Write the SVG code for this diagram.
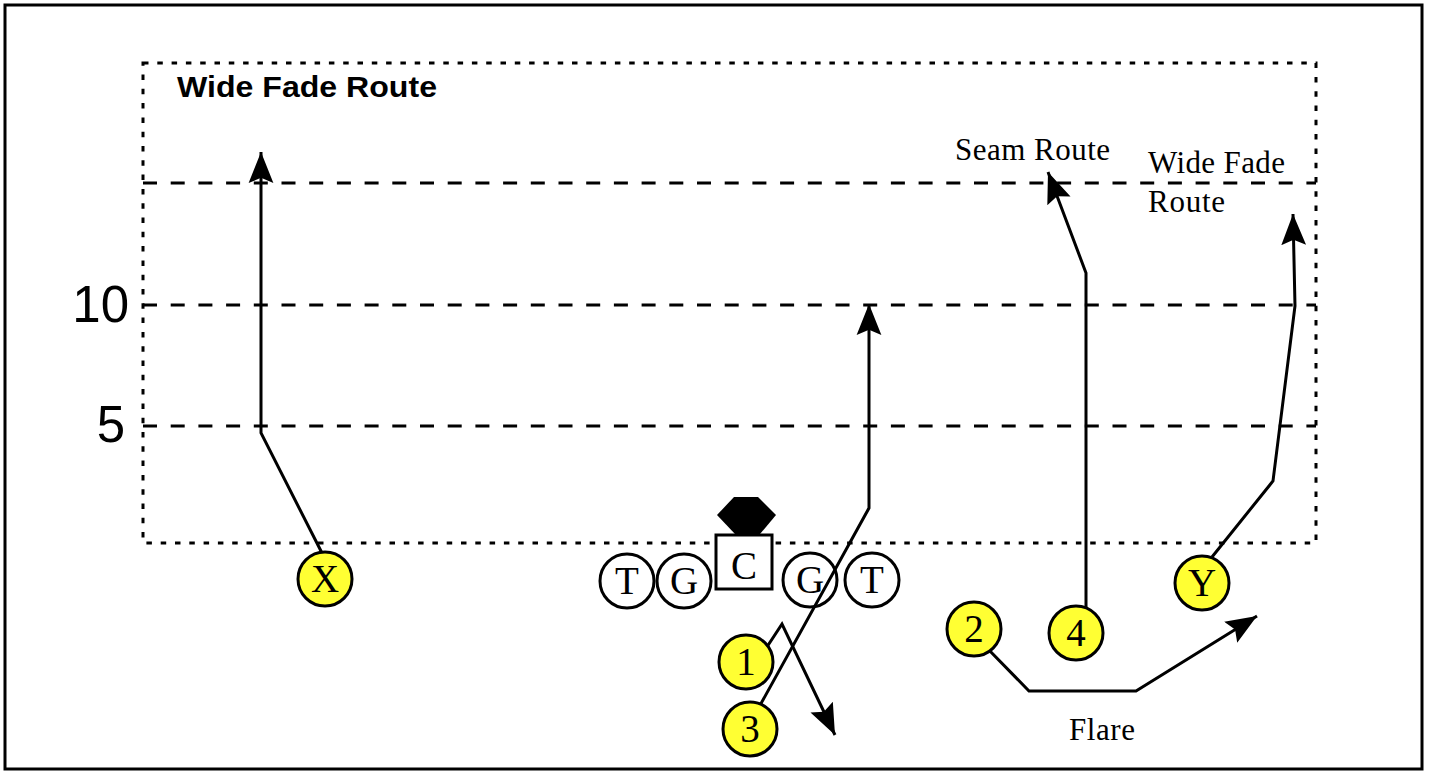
<svg xmlns="http://www.w3.org/2000/svg" width="1431" height="772" viewBox="0 0 1431 772">
<style>
.frame{fill:none;stroke:#000;stroke-width:3}
.dot{fill:none;stroke:#000;stroke-width:3;stroke-dasharray:5.5 8.8}
.dash{fill:none;stroke:#000;stroke-width:3;stroke-dasharray:14 13.7}
.route{fill:none;stroke:#000;stroke-width:3;stroke-linejoin:miter}
.wr{fill:#ffff33;stroke:#000;stroke-width:3}
.ol{fill:#fff;stroke:#000;stroke-width:3}
.lbl{font-family:"Liberation Serif","Times New Roman",serif;font-size:39px;fill:#000;text-anchor:middle}
.note{font-family:"Liberation Serif","Times New Roman",serif;font-size:31px;fill:#000}
.yd{font-family:"Liberation Sans",Arial,sans-serif;font-size:51px;fill:#000;text-anchor:end}
.title{font-family:"Liberation Sans",Arial,sans-serif;font-size:30px;font-weight:bold;fill:#000}
</style>
<defs>
<marker id="ah" markerUnits="userSpaceOnUse" markerWidth="32" markerHeight="28" viewBox="-30 -13 31 26" refX="0" refY="0" orient="auto">
<path d="M0,0 L-30,-12 L-25,0 L-30,12 Z" fill="#000"/>
</marker>
</defs>
<rect class="frame" x="5" y="5" width="1417" height="764"/>
<g id="field">
<rect class="dot" x="143" y="63" width="1173" height="480"/>
<line class="dash" x1="143" y1="183" x2="1316" y2="183"/>
<line class="dash" x1="143" y1="305" x2="1316" y2="305"/>
<line class="dash" x1="143" y1="426" x2="1316" y2="426"/>
<text class="yd" x="129" y="322">10</text>
<text class="yd" x="125" y="442">5</text>
<text class="title" x="177" y="97" textLength="260" lengthAdjust="spacingAndGlyphs">Wide Fade Route</text>
<text class="note" x="955" y="160" textLength="155" lengthAdjust="spacing">Seam Route</text>
<text class="note" x="1148" y="173" textLength="137" lengthAdjust="spacing">Wide Fade</text>
<text class="note" x="1148" y="212" textLength="77" lengthAdjust="spacing">Route</text>
<text class="note" x="1069" y="740" textLength="66" lengthAdjust="spacing">Flare</text>
</g>
<g id="connectors">
<polyline class="route" points="323,555 261,433 261,152" marker-end="url(#ah)"/>
<polyline class="route" points="763,653 782,624 835,735" marker-end="url(#ah)"/>
<polyline class="route" points="758,709 869,508 869,304" marker-end="url(#ah)"/>
<polyline class="route" points="987,648 1029,691 1136,691 1257,616" marker-end="url(#ah)"/>
<polyline class="route" points="1086,617 1086,273 1048,172" marker-end="url(#ah)"/>
<polyline class="route" points="1212,557 1273,481 1295,306 1293,214" marker-end="url(#ah)"/>
</g>
<g id="defense">
<polygon points="717,515 734,497 758,497 776,515 760,534 735,534" fill="#000"/>
</g>
<g id="lt"><circle class="ol" cx="627" cy="581" r="27"/><text class="lbl" x="627" y="594">T</text></g>
<g id="lg"><circle class="ol" cx="684" cy="581" r="27"/><text class="lbl" x="684" y="594">G</text></g>
<g id="c"><rect class="ol" x="716" y="535" width="56" height="54"/><text class="lbl" x="744" y="579">C</text></g>
<g id="rg"><circle class="ol" cx="810" cy="580" r="27" fill-opacity="0"/><text class="lbl" x="810" y="593">G</text></g>
<g id="rt"><circle class="ol" cx="872" cy="580" r="27"/><text class="lbl" x="872" y="593">T</text></g>
<g id="x"><circle class="wr" cx="325" cy="579" r="27"/><text class="lbl" x="325" y="592">X</text></g>
<g id="p1"><circle class="wr" cx="746" cy="662" r="27"/><text class="lbl" x="746" y="675">1</text></g>
<g id="p3"><circle class="wr" cx="750" cy="729" r="27"/><text class="lbl" x="750" y="742">3</text></g>
<g id="p2"><circle class="wr" cx="974" cy="629" r="27"/><text class="lbl" x="974" y="642">2</text></g>
<g id="p4"><circle class="wr" cx="1076" cy="633" r="27"/><text class="lbl" x="1076" y="646">4</text></g>
<g id="y"><circle class="wr" cx="1202" cy="583" r="27"/><text class="lbl" x="1202" y="596">Y</text></g>
</svg>
